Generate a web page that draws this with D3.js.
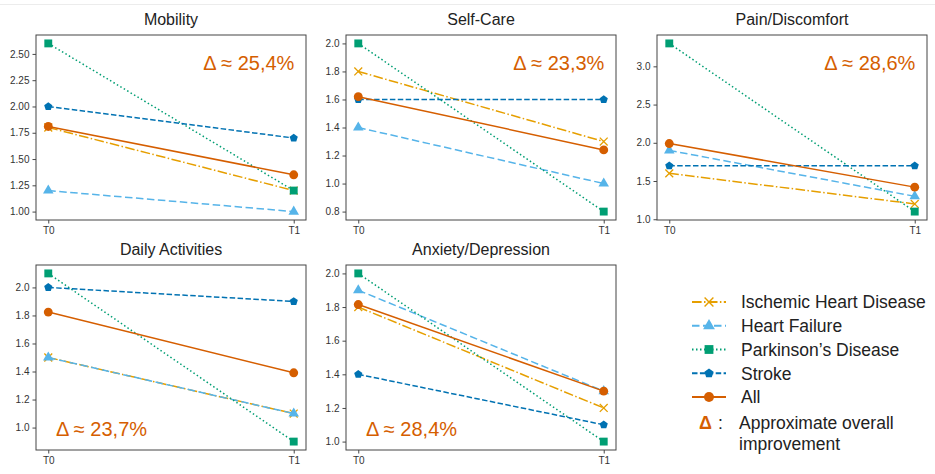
<!DOCTYPE html>
<html>
<head>
<meta charset="utf-8">
<script src="https://cdn.jsdelivr.net/npm/d3@7"></script>
<style>
  body { margin: 0; background: #fff; }
  text { font-family: "Liberation Sans", Arial, Helvetica, sans-serif; }
</style>
</head>
<body>
<div id="vis-container"></div>
<script>
// chart data
const panels = ["Mobility", "Self-Care", "Pain/Discomfort", "Daily Activities", "Anxiety/Depression"];
const timepoints = ["T0", "T1"];
const seriesNames = ["Ischemic Heart Disease", "Heart Failure", "Parkinson’s Disease", "Stroke", "All"];

// one [T0, T1] pair per panel
const ischemic = [[1.8, 1.2], [1.8, 1.3], [1.6, 1.2], [1.5, 1.1], [1.8, 1.2]];
const heartFailure = [[1.2, 1.0], [1.4, 1.0], [1.9, 1.3], [1.5, 1.1], [1.9, 1.3]];
const parkinsons = [[2.6, 1.2], [2.0, 0.8], [3.3, 1.1], [2.1, 0.9], [2.0, 1.0]];
const stroke = [[2.0, 1.7], [1.6, 1.6], [1.7, 1.7], [2.0, 1.9], [1.4, 1.1]];
const allPatients = [[1.81, 1.35], [1.62, 1.24], [1.99, 1.42], [1.824, 1.391], [1.815, 1.30]];

const deltas = ["25,4%", "23,3%", "28,6%", "23,7%", "28,4%"];

const yTicks = [
  [1.0, 1.25, 1.5, 1.75, 2.0, 2.25, 2.5],
  [0.8, 1.0, 1.2, 1.4, 1.6, 1.8, 2.0],
  [1.0, 1.5, 2.0, 2.5, 3.0],
  [1.0, 1.2, 1.4, 1.6, 1.8, 2.0],
  [1.0, 1.2, 1.4, 1.6, 1.8, 2.0]
];
const yTickDecimals = [2, 1, 1, 1, 1];

const allSeries = [ischemic, heartFailure, parkinsons, stroke, allPatients];

// styling per series
const colors = ["#E69F00", "#56B4E9", "#009E73", "#0072B2", "#D55E00"];
const dashes = ["9.6,2.4,1.5,2.4", "7.5,3.5", "1.5,2.5", "5.5,2.4", null];

// pentagon marker (d3 has none)
const symbolPentagon = {
  draw(context, size) {
    const r = Math.sqrt(size / 2.378);
    for (let k = 0; k < 5; k++) {
      const a = -Math.PI / 2 + k * 2 * Math.PI / 5;
      const px = r * Math.cos(a), py = r * Math.sin(a);
      if (k === 0) context.moveTo(px, py); else context.lineTo(px, py);
    }
    context.closePath();
  }
};
const symbols = [d3.symbolX, d3.symbolTriangle, d3.symbolSquare, symbolPentagon, d3.symbolCircle];
const symbolSizes = [42, 48, 62, 44, 62];

var width = 935, height = 474;

var svg = d3.select("#vis-container")
  .append("svg")
  .attr("width", width)
  .attr("height", height);

svg.append("rect").attr("width", width).attr("height", height).attr("fill", "#fff");

// thin crop line at the top of the original figure
svg.append("line")
  .attr("x1", 0).attr("x2", width)
  .attr("y1", 4.5).attr("y2", 4.5)
  .attr("stroke", "#ececec").attr("stroke-width", 1);

// panel grid
const colLeft = [36, 346, 657];
const rowTop = [35, 265];
const pw = 270, ph = 185;

panels.forEach((name, p) => {
  const left = colLeft[p % 3];
  const top = rowTop[Math.floor(p / 3)];
  const g = svg.append("g").attr("transform", "translate(" + left + "," + top + ")");

  const x = d3.scalePoint().domain(timepoints).range([0, pw]).padding(0.05);

  const vals = allSeries.flatMap((s) => s[p]);
  const [lo, hi] = d3.extent(vals);
  const pad = (hi - lo) * 0.05;
  const y = d3.scaleLinear().domain([lo - pad, hi + pad]).range([ph, 0]);

  // axes
  const yAxis = g.append("g")
    .call(d3.axisLeft(y).tickValues(yTicks[p]).tickFormat(d3.format("." + yTickDecimals[p] + "f"))
      .tickSize(3.5).tickPadding(3));
  const xAxis = g.append("g")
    .attr("transform", "translate(0," + ph + ")")
    .call(d3.axisBottom(x).tickSize(3.5).tickPadding(3));
  [yAxis, xAxis].forEach((a) => {
    a.select(".domain").remove();
    a.selectAll("line").attr("stroke", "#333").attr("stroke-width", 0.9);
    a.selectAll("text").attr("fill", "#333").style("font-size", "10px")
      .style("font-family", "'Liberation Sans', Arial, sans-serif");
  });

  // series lines + markers
  const line = d3.line().x((d, i) => x(timepoints[i])).y((d) => y(d));
  allSeries.forEach((s, k) => {
    g.append("path")
      .datum(s[p])
      .attr("d", line)
      .attr("fill", "none")
      .attr("stroke", colors[k])
      .attr("stroke-width", 1.5)
      .attr("stroke-dasharray", dashes[k]);
    const isX = k === 0;
    g.selectAll(null)
      .data(s[p])
      .enter()
      .append("path")
      .attr("d", d3.symbol().type(symbols[k]).size(symbolSizes[k]))
      .attr("transform", (d, i) => "translate(" + x(timepoints[i]) + "," + y(d) + ")")
      .attr("fill", isX ? "none" : colors[k])
      .attr("stroke", isX ? colors[k] : "none")
      .attr("stroke-width", 1.3);
  });

  // frame
  g.append("rect")
    .attr("width", pw).attr("height", ph)
    .attr("fill", "none").attr("stroke", "#444").attr("stroke-width", 1);

  // title
  g.append("text")
    .attr("x", pw / 2).attr("y", -10.5)
    .attr("text-anchor", "middle")
    .attr("fill", "#222")
    .style("font-size", "16px")
    .text(name);

  // delta annotation
  const topRight = p < 3;
  g.append("text")
    .attr("x", topRight ? pw * 0.957 : 20)
    .attr("y", topRight ? 35 : ph - 14)
    .attr("text-anchor", topRight ? "end" : "start")
    .attr("fill", "#D55E00")
    .style("font-size", "20px")
    .text("Δ ≈ " + deltas[p]);
});

// legend
const legend = svg.append("g").attr("transform", "translate(692,302)");
const rowGap = 23.75;
seriesNames.forEach((n, k) => {
  const row = legend.append("g").attr("transform", "translate(0," + k * rowGap + ")");
  row.append("line")
    .attr("x1", 0).attr("x2", 34)
    .attr("stroke", colors[k]).attr("stroke-width", 1.8)
    .attr("stroke-dasharray", dashes[k]);
  const isX = k === 0;
  row.append("path")
    .attr("d", d3.symbol().type(symbols[k]).size(symbolSizes[k] * 1.25))
    .attr("transform", "translate(17,0)")
    .attr("fill", isX ? "none" : colors[k])
    .attr("stroke", isX ? colors[k] : "none")
    .attr("stroke-width", 1.4);
  row.append("text")
    .attr("x", 49).attr("y", 0).attr("dy", "0.36em")
    .attr("fill", "#222")
    .style("font-size", "17.5px")
    .text(n);
});

const deltaRow = legend.append("g").attr("transform", "translate(0," + (5 * rowGap + 2) + ")");
deltaRow.append("text")
  .attr("x", 7).attr("y", 0).attr("dy", "0.36em")
  .attr("fill", "#D55E00")
  .style("font-size", "18px").style("font-weight", "bold")
  .text("Δ");
deltaRow.append("text")
  .attr("x", 26).attr("y", 0).attr("dy", "0.36em")
  .attr("fill", "#222")
  .style("font-size", "17.5px")
  .text(":");
deltaRow.append("text")
  .attr("x", 47).attr("y", 0).attr("dy", "0.36em")
  .attr("fill", "#222")
  .style("font-size", "17.5px")
  .text("Approximate overall");
deltaRow.append("text")
  .attr("x", 47).attr("y", 21).attr("dy", "0.36em")
  .attr("fill", "#222")
  .style("font-size", "17.5px")
  .text("improvement");
</script>
</body>
</html>
